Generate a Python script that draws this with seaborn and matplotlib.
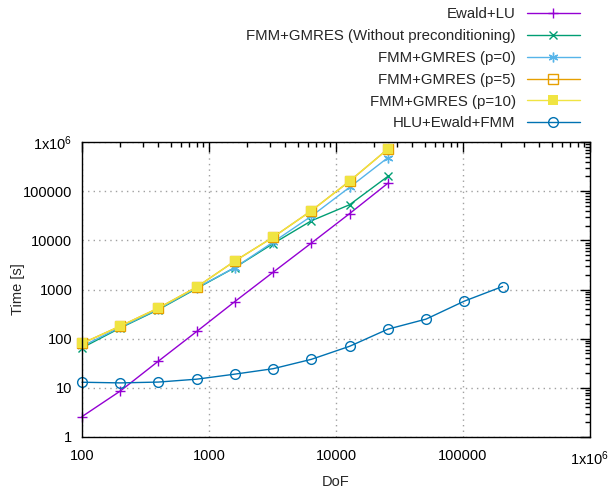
import pandas as pd
import seaborn as sns
import matplotlib.pyplot as plt
import matplotlib.ticker as mticker
import numpy as np

dof = [100, 200, 400, 800, 1600, 3200, 6400, 12800, 25600]
dof_hlu = [100, 200, 400, 800, 1600, 3200, 6400, 12800, 25600, 51200, 102400, 204800]

ewald_lu = [2.6, 8.6, 35, 140, 570, 2250, 8800, 35000, 145000]
gmres_noprec = [65, 165, 390, 1050, 2800, 8600, 25000, 53000, 200000]
gmres_p0 = [70, 170, 400, 1080, 2800, 9200, 31000, 120000, 480000]
gmres_p5 = [80, 180, 420, 1120, 3800, 11600, 40000, 160000, 720000]
gmres_p10 = [80, 180, 420, 1120, 3800, 11600, 40000, 160000, 720000]
hlu = [13, 12.6, 13.1, 15, 19, 24.5, 38, 70, 156, 250, 580, 1150]

sns.set_style("white")
plt.rcParams['font.family'] = ['Liberation Sans', 'DejaVu Sans']
plt.rcParams['mathtext.default'] = 'regular'
plt.rcParams['font.size'] = 10

fig = plt.figure(figsize=(6.1, 4.96), dpi=100)
ax = fig.add_axes([82 / 610, 1 - 437 / 496, 508 / 610, 295 / 496])

series = [
    ("Ewald+LU", dof, ewald_lu, "#9400d3", "+", dict(ms=7, mew=1)),
    ("FMM+GMRES (Without preconditioning)", dof, gmres_noprec, "#009e73", "x", dict(ms=6, mew=1)),
    ("FMM+GMRES (p=0)", dof, gmres_p0, "#56b4e9", (6, 2, 0), dict(ms=7, mew=1)),
    ("FMM+GMRES (p=5)", dof, gmres_p5, "#e69f00", "s", dict(ms=6.5, mew=1, mfc="none")),
    ("FMM+GMRES (p=10)", dof, gmres_p10, "#f0e442", "s", dict(ms=7.5, mew=0)),
    ("HLU+Ewald+FMM", dof_hlu, hlu, "#0072b2", "o", dict(ms=7, mew=1, mfc="none")),
]

for name, x, y, col, mk, kw in series:
    df = pd.DataFrame({"DoF": x, "Time": y})
    sns.lineplot(data=df, x="DoF", y="Time", ax=ax, color=col, lw=1,
                 marker=mk, mec=col, label=name, clip_on=False, **kw)

ax.set_xscale("log")
ax.set_yscale("log")
ax.set_xlim(100, 1e6)
ax.set_ylim(1, 1e6)


def fmt(v, pos):
    if v >= 1e6 * 0.99:
        return "1x10$^{6}$"
    return "%d" % round(v)


ax.xaxis.set_major_locator(mticker.LogLocator(base=10, numticks=10))
ax.yaxis.set_major_locator(mticker.LogLocator(base=10, numticks=10))
ax.xaxis.set_major_formatter(mticker.FuncFormatter(fmt))
ax.yaxis.set_major_formatter(mticker.FuncFormatter(fmt))
ax.xaxis.set_minor_locator(mticker.LogLocator(base=10, subs=np.arange(2, 10), numticks=20))
ax.yaxis.set_minor_locator(mticker.LogLocator(base=10, subs=np.arange(2, 10), numticks=20))
ax.xaxis.set_minor_formatter(mticker.NullFormatter())
ax.yaxis.set_minor_formatter(mticker.NullFormatter())

ax.tick_params(which="both", direction="in", top=True, right=True, colors="black", width=1)
ax.tick_params(which="major", length=7, labelsize=10.5)
ax.tick_params(axis="x", which="major", pad=9)
ax.tick_params(axis="y", which="major", pad=7)
ax.tick_params(which="minor", length=3.5)
for s in ax.spines.values():
    s.set_color("black")
    s.set_linewidth(1)

ax.grid(which="major", color="#a0a0a0", linestyle=(0, (1, 3)), lw=1)
ax.set_xlabel("DoF", fontsize=10.5)
ax.set_ylabel("Time [s]", fontsize=10.5)
ax.xaxis.set_label_coords(0.5, -(482 - 437) / 295)
ax.yaxis.set_label_coords(-(82 - 18) / 508, 0.5)
ax.xaxis.label.set_va("center")
ax.yaxis.label.set_va("center")

ax.get_legend().remove()
handles, labels = ax.get_legend_handles_labels()
fig.legend(handles, labels, loc="upper right", bbox_to_anchor=(593 / 610, 1 + 6 / 496),
           frameon=False, markerfirst=False, handlelength=3.5, labelspacing=0.52,
           fontsize=10.8, handletextpad=0.75)

fig.savefig("out.png", dpi=100)
